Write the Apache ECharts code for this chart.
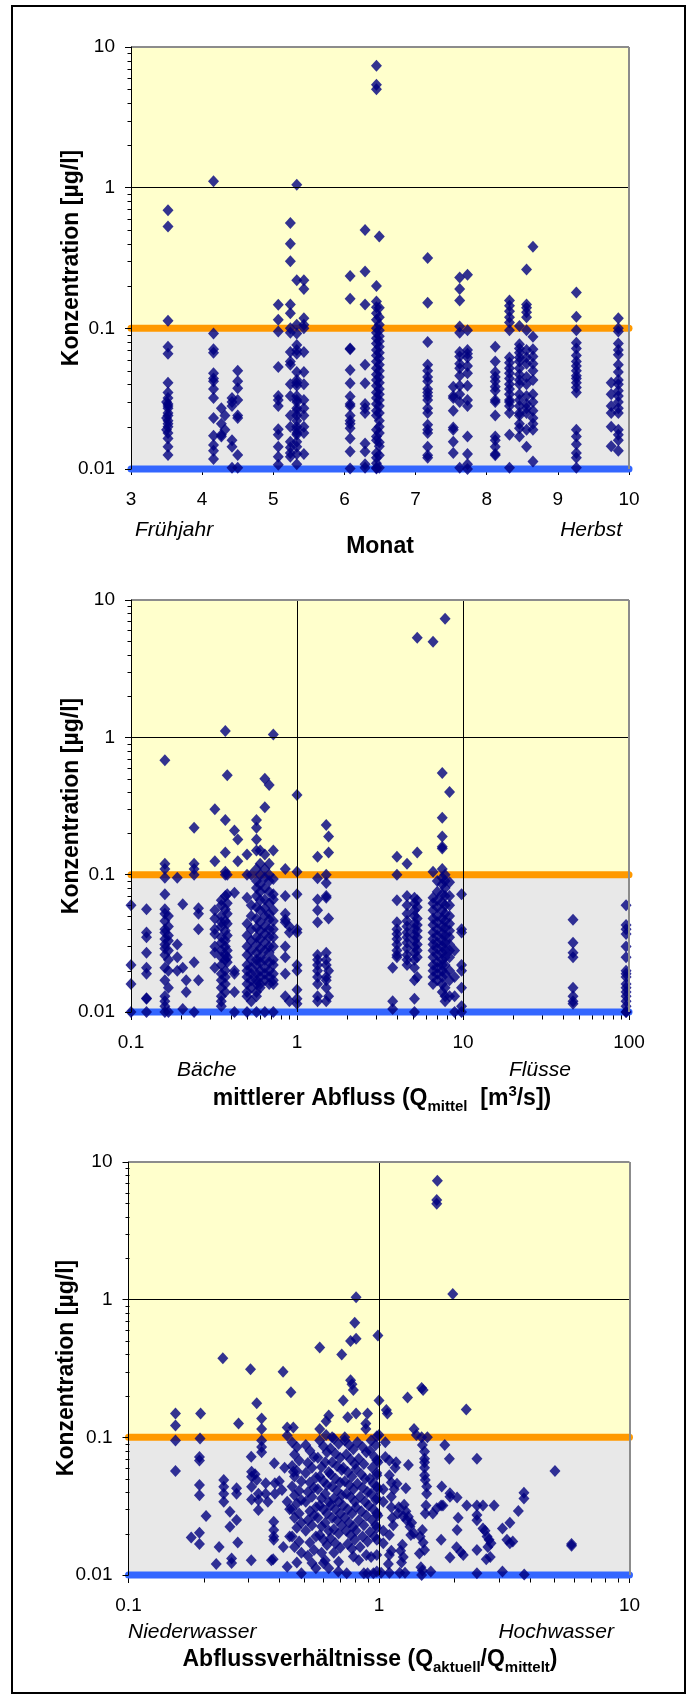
<!DOCTYPE html>
<html>
<head>
<meta charset="utf-8">
<script src="https://cdn.jsdelivr.net/npm/echarts@6/dist/echarts.min.js"></script>
<style>
  html, body { margin: 0; padding: 0; background: #ffffff; }
  #chart { width: 691px; height: 1698px; }
</style>
</head>
<body>
<div id="chart"></div>
<script>
// ---------------------------------------------------------------
// Messwerte: Konzentration [µg/l] gegen Monat, mittleren Abfluss
// und Abflussverhältnis. Gruppen: [x, [Konzentrationen]]
// ---------------------------------------------------------------
const monatMessungen = [
  [3.50, [0.030, 0.023, 0.019]],
  [3.52, [0.69, 0.53, 0.113, 0.074, 0.066, 0.041, 0.035, 0.032, 0.029, 0.028, 0.027, 0.025, 0.024, 0.022, 0.021, 0.020, 0.018, 0.0165, 0.0144, 0.0126]],
  [4.16, [1.11, 0.092, 0.071, 0.067, 0.048, 0.044, 0.042, 0.037, 0.032, 0.023, 0.0172, 0.0148, 0.0135, 0.0118]],
  [4.27, [0.027, 0.021, 0.0175, 0.017]],
  [4.32, [0.024, 0.019]],
  [4.42, [0.032, 0.030, 0.028, 0.016, 0.0144, 0.0102]],
  [4.50, [0.050, 0.042, 0.0375, 0.031, 0.024, 0.023, 0.0126, 0.0102]],
  [5.07, [0.147, 0.115, 0.095, 0.053, 0.033, 0.031, 0.028, 0.0192, 0.0175, 0.0144, 0.0122, 0.0107]],
  [5.24, [0.56, 0.40, 0.30, 0.148, 0.128, 0.100, 0.093, 0.068, 0.058, 0.055, 0.040, 0.033, 0.024, 0.020, 0.0156, 0.0142, 0.013, 0.0122]],
  [5.33, [1.05, 0.22, 0.106, 0.092, 0.076, 0.070, 0.066, 0.049, 0.043, 0.041, 0.039, 0.033, 0.031, 0.030, 0.027, 0.026, 0.024, 0.022, 0.020, 0.019, 0.018, 0.0175, 0.0156, 0.0144, 0.0128, 0.0108]],
  [5.43, [0.22, 0.19, 0.118, 0.106, 0.100, 0.068, 0.049, 0.040, 0.031, 0.027, 0.024, 0.020, 0.018, 0.0128]],
  [6.08, [0.236, 0.162, 0.072, 0.071, 0.0506, 0.0407, 0.0327, 0.029, 0.028, 0.024, 0.022, 0.021, 0.0195, 0.0165, 0.0133, 0.0101]],
  [6.29, [0.50, 0.254, 0.148, 0.055, 0.0407, 0.029, 0.027, 0.025, 0.0152, 0.0133, 0.0108, 0.0102]],
  [6.45, [7.35, 5.38, 5.0, 0.20, 0.155, 0.141, 0.128, 0.115, 0.100, 0.093, 0.085, 0.078, 0.070, 0.064, 0.058, 0.052, 0.047, 0.043, 0.039, 0.035, 0.032, 0.029, 0.026, 0.024, 0.019, 0.017, 0.016, 0.013, 0.012, 0.011, 0.0102, 0.0101]],
  [6.49, [0.45, 0.14, 0.12, 0.106, 0.097, 0.088, 0.081, 0.074, 0.067, 0.061, 0.055, 0.050, 0.045, 0.041, 0.037, 0.034, 0.031, 0.028, 0.025, 0.022, 0.020, 0.018, 0.0155, 0.0145, 0.0125, 0.0102]],
  [7.17, [0.316, 0.152, 0.080, 0.055, 0.050, 0.045, 0.042, 0.037, 0.035, 0.033, 0.031, 0.027, 0.025, 0.0206, 0.019, 0.018, 0.0144, 0.0125, 0.012]],
  [7.53, [0.0385, 0.033, 0.032, 0.026, 0.0197, 0.019, 0.0156, 0.013]],
  [7.62, [0.23, 0.19, 0.158, 0.103, 0.093, 0.068, 0.063, 0.056, 0.052, 0.046, 0.039, 0.034, 0.030, 0.0102]],
  [7.73, [0.24, 0.097, 0.070, 0.066, 0.062, 0.054, 0.048, 0.039, 0.031, 0.028, 0.017, 0.0128, 0.0108, 0.010]],
  [8.12, [0.074, 0.058, 0.049, 0.045, 0.042, 0.0385, 0.036, 0.031, 0.030, 0.024, 0.017, 0.016, 0.0144, 0.0128, 0.0125]],
  [8.32, [0.158, 0.145, 0.132, 0.12, 0.11, 0.097, 0.062, 0.057, 0.052, 0.048, 0.044, 0.040, 0.037, 0.034, 0.031, 0.030, 0.028, 0.025, 0.0175, 0.0102]],
  [8.46, [0.104, 0.077, 0.072, 0.067, 0.062, 0.058, 0.052, 0.047, 0.043, 0.040, 0.034, 0.031, 0.028, 0.025, 0.024, 0.021, 0.0195, 0.017]],
  [8.56, [0.262, 0.148, 0.14, 0.13, 0.12, 0.097, 0.070, 0.062, 0.056, 0.045, 0.040, 0.033, 0.029, 0.027, 0.025, 0.019, 0.0144]],
  [8.65, [0.38, 0.087, 0.071, 0.063, 0.056, 0.050, 0.043, 0.034, 0.030, 0.026, 0.023, 0.021, 0.019, 0.0113]],
  [9.26, [0.18, 0.121, 0.097, 0.079, 0.072, 0.064, 0.058, 0.054, 0.050, 0.046, 0.044, 0.041, 0.038, 0.035, 0.019, 0.017, 0.015, 0.013, 0.012, 0.0102]],
  [9.75, [0.041, 0.034, 0.028, 0.025, 0.020, 0.0145]],
  [9.85, [0.118, 0.100, 0.095, 0.078, 0.070, 0.065, 0.055, 0.049, 0.043, 0.040, 0.036, 0.033, 0.030, 0.027, 0.025, 0.019, 0.0175, 0.016, 0.0135]]
];

const abflussMessungen = [
  [0.100, [0.060, 0.022, 0.016, 0.010]],
  [0.124, [0.056, 0.038, 0.035, 0.027, 0.021, 0.019, 0.0126, 0.0125, 0.010]],
  [0.160, [0.68, 0.12, 0.11, 0.095, 0.072, 0.056, 0.052, 0.046, 0.040, 0.038, 0.034, 0.031, 0.029, 0.026, 0.021, 0.017, 0.013, 0.012, 0.011, 0.010]],
  [0.168, [0.050, 0.042, 0.036, 0.033, 0.028, 0.024, 0.020, 0.015, 0.010]],
  [0.190, [0.095, 0.031, 0.025, 0.020]],
  [0.205, [0.061, 0.021, 0.0105]],
  [0.215, [0.017, 0.014]],
  [0.240, [0.22, 0.12, 0.11, 0.10, 0.023, 0.010]],
  [0.255, [0.057, 0.052, 0.040, 0.017]],
  [0.320, [0.30, 0.125, 0.055, 0.048, 0.040, 0.037, 0.030, 0.027, 0.021]],
  [0.350, [0.065, 0.060, 0.050, 0.045, 0.042, 0.035, 0.032, 0.028, 0.025, 0.022, 0.019, 0.017, 0.015, 0.013, 0.012, 0.011]],
  [0.370, [1.11, 0.25, 0.145, 0.105, 0.10, 0.070, 0.056, 0.046, 0.039, 0.033, 0.030, 0.026, 0.024, 0.020, 0.018, 0.016, 0.014]],
  [0.380, [0.53, 0.10, 0.072, 0.062, 0.052, 0.044, 0.036, 0.028, 0.025, 0.023]],
  [0.420, [0.21, 0.074, 0.020, 0.019, 0.014, 0.010]],
  [0.440, [0.18, 0.125]],
  [0.500, [0.14, 0.10, 0.068, 0.044, 0.036, 0.030, 0.026, 0.022, 0.020, 0.018, 0.016, 0.014, 0.013, 0.010]],
  [0.530, [0.10, 0.060, 0.050, 0.040, 0.033, 0.028, 0.024, 0.021, 0.019, 0.017, 0.015, 0.012]],
  [0.570, [0.25, 0.22, 0.18, 0.15, 0.11, 0.09, 0.08, 0.07, 0.058, 0.048, 0.041, 0.035, 0.031, 0.027, 0.024, 0.022, 0.019, 0.017, 0.016, 0.014, 0.013, 0.010]],
  [0.600, [0.15, 0.12, 0.10, 0.085, 0.075, 0.065, 0.055, 0.045, 0.039, 0.034, 0.029, 0.025, 0.023, 0.020, 0.018, 0.016, 0.015]],
  [0.640, [0.50, 0.31, 0.14, 0.11, 0.095, 0.08, 0.066, 0.057, 0.050, 0.042, 0.037, 0.032, 0.028, 0.024, 0.021, 0.019, 0.017, 0.010]],
  [0.680, [0.45, 0.12, 0.10, 0.09, 0.075, 0.062, 0.052, 0.047, 0.040, 0.035, 0.030, 0.027, 0.023, 0.020, 0.018, 0.016]],
  [0.720, [1.05, 0.15, 0.093, 0.072, 0.066, 0.055, 0.046, 0.040, 0.035, 0.030, 0.024, 0.022, 0.019, 0.017, 0.016, 0.010]],
  [0.850, [0.11, 0.070, 0.052, 0.047, 0.045, 0.030, 0.025, 0.019, 0.013]],
  [0.900, [0.042, 0.038, 0.012]],
  [1.00, [0.38, 0.105, 0.072, 0.040, 0.038, 0.022, 0.020, 0.0145, 0.0125, 0.0115]],
  [1.33, [0.135, 0.094, 0.066, 0.055, 0.045, 0.026, 0.024, 0.022, 0.020, 0.018, 0.016, 0.013, 0.012]],
  [1.50, [0.23, 0.10, 0.087, 0.070, 0.068, 0.027, 0.024, 0.022, 0.018, 0.017, 0.015, 0.012]],
  [1.55, [0.19, 0.145, 0.048, 0.020, 0.013]],
  [3.77, [0.021, 0.012, 0.0105]],
  [4.00, [0.135, 0.10, 0.065, 0.045, 0.040, 0.037, 0.034, 0.031, 0.028, 0.026, 0.025]],
  [4.60, [0.12, 0.07, 0.06, 0.052, 0.046, 0.042, 0.038, 0.035, 0.032, 0.029, 0.026, 0.024, 0.022]],
  [5.10, [0.068, 0.062, 0.055, 0.050, 0.044, 0.040, 0.036, 0.033, 0.030, 0.027, 0.024, 0.021, 0.017, 0.0125, 0.010]],
  [5.30, [5.3, 0.145, 0.065, 0.058, 0.048, 0.043, 0.039, 0.035, 0.031, 0.028, 0.025, 0.018]],
  [6.60, [4.97, 0.105, 0.068, 0.062, 0.055, 0.048, 0.043, 0.038, 0.034, 0.031, 0.028, 0.025, 0.022, 0.020, 0.018, 0.016]],
  [7.00, [0.09, 0.075, 0.065, 0.058, 0.050, 0.045, 0.040, 0.036, 0.032, 0.029, 0.026, 0.023, 0.021, 0.019, 0.017]],
  [7.50, [0.55, 0.26, 0.19, 0.16, 0.155, 0.11, 0.095, 0.085, 0.072, 0.063, 0.055, 0.048, 0.042, 0.037, 0.033, 0.030, 0.027, 0.024, 0.022, 0.020, 0.018, 0.016, 0.014]],
  [7.80, [7.3, 0.10, 0.09, 0.08, 0.07, 0.06, 0.052, 0.046, 0.041, 0.036, 0.032, 0.028, 0.025, 0.022, 0.019, 0.015, 0.013, 0.012]],
  [8.30, [0.40, 0.088, 0.070, 0.060, 0.050, 0.044, 0.039, 0.035, 0.031, 0.028, 0.025, 0.020, 0.017, 0.013]],
  [8.90, [0.028, 0.018, 0.013, 0.010]],
  [9.80, [0.072, 0.040, 0.038, 0.022, 0.020, 0.015, 0.011, 0.010]],
  [46.0, [0.047, 0.032, 0.027, 0.025, 0.015, 0.013, 0.012, 0.0115]],
  [96.0, [0.060, 0.043, 0.040, 0.037, 0.030, 0.025, 0.020, 0.019, 0.018, 0.016, 0.015, 0.014, 0.013, 0.012, 0.011, 0.010, 0.010]]
];

// Paare [Q_aktuell/Q_mittel, Konzentration]
const verhaeltnisMessungen = [
  [1.71, 7.3], [1.70, 5.3], [1.70, 4.97], [1.97, 1.10], [0.81, 1.04], [0.80, 0.68], [0.81, 0.52], [0.77, 0.50],
  [0.99, 0.55], [0.58, 0.45], [0.71, 0.40], [0.238, 0.376], [0.307, 0.312], [0.414, 0.30], [0.445, 0.213],
  [0.77, 0.26], [0.78, 0.243], [0.79, 0.221], [0.72, 0.185], [1.0, 0.185], [1.30, 0.195], [1.48, 0.228],
  [1.50, 0.221], [2.23, 0.159], [1.08, 0.149], [1.07, 0.158], [0.90, 0.149], [0.81, 0.149], [0.75, 0.14],
  [0.63, 0.144], [0.615, 0.131], [0.325, 0.177], [0.34, 0.137], [0.34, 0.115], [0.275, 0.126], [0.154, 0.149],
  [0.154, 0.122], [0.194, 0.149], [0.43, 0.118], [0.455, 0.118], [0.43, 0.103], [0.58, 0.115], [0.615, 0.104],
  [0.886, 0.115], [0.886, 0.126], [0.98, 0.102], [1.0, 0.104], [1.38, 0.115], [1.41, 0.104], [1.56, 0.1],
  [0.65, 0.1], [0.73, 0.1],
  [0.154, 0.095], [0.193, 0.098], [0.154, 0.057], [0.192, 0.072], [0.192, 0.068], [0.192, 0.045], [0.192, 0.038],
  [0.204, 0.0268], [0.178, 0.0187], [0.192, 0.0203], [0.192, 0.0168], [0.23, 0.016], [0.224, 0.012],
  [0.24, 0.049], [0.24, 0.0438], [0.24, 0.039], [0.24, 0.034], [0.254, 0.0288], [0.254, 0.0224], [0.27, 0.0251],
  [0.27, 0.0426], [0.27, 0.039], [0.273, 0.0172], [0.258, 0.0132], [0.258, 0.0122], [0.309, 0.0723],
  [0.31, 0.0563], [0.31, 0.0518], [0.31, 0.0438], [0.31, 0.0353], [0.309, 0.0128], [0.32, 0.054], [0.325, 0.049],
  [0.33, 0.039], [0.33, 0.035], [0.33, 0.0297], [0.34, 0.095], [0.34, 0.085], [0.34, 0.078], [0.353, 0.0464],
  [0.353, 0.039], [0.36, 0.034], [0.382, 0.0647], [0.384, 0.0464], [0.384, 0.039], [0.38, 0.0244], [0.38, 0.0212],
  [0.38, 0.019], [0.38, 0.018], [0.378, 0.013], [0.372, 0.0128], [0.41, 0.0414], [0.40, 0.048], [0.415, 0.016],
  [0.43, 0.0115], [0.42, 0.060], [0.43, 0.034], [0.44, 0.030], [0.44, 0.019], [0.455, 0.0563],
  [0.45, 0.092], [0.47, 0.085], [0.46, 0.075], [0.48, 0.068], [0.45, 0.062], [0.47, 0.057], [0.46, 0.052],
  [0.49, 0.048], [0.45, 0.044], [0.48, 0.041], [0.46, 0.038], [0.49, 0.035], [0.47, 0.033], [0.45, 0.030],
  [0.48, 0.028], [0.46, 0.026], [0.49, 0.024], [0.47, 0.022], [0.45, 0.019], [0.48, 0.0175], [0.46, 0.016],
  [0.49, 0.0145], [0.47, 0.0123], [0.49, 0.0103],
  [0.51, 0.088], [0.53, 0.080], [0.55, 0.072], [0.52, 0.065], [0.54, 0.060], [0.51, 0.055], [0.56, 0.051],
  [0.53, 0.047], [0.55, 0.043], [0.52, 0.040], [0.54, 0.037], [0.51, 0.034], [0.56, 0.031], [0.53, 0.029],
  [0.55, 0.027], [0.52, 0.025], [0.54, 0.023], [0.51, 0.021], [0.56, 0.019], [0.53, 0.0172], [0.55, 0.0152],
  [0.52, 0.0138], [0.54, 0.0122], [0.56, 0.0112],
  [0.58, 0.095], [0.60, 0.086], [0.62, 0.078], [0.57, 0.071], [0.61, 0.066], [0.59, 0.061], [0.63, 0.056],
  [0.58, 0.052], [0.60, 0.048], [0.62, 0.045], [0.57, 0.042], [0.61, 0.039], [0.59, 0.036], [0.63, 0.034],
  [0.58, 0.032], [0.60, 0.030], [0.62, 0.028], [0.57, 0.026], [0.61, 0.024], [0.59, 0.0225], [0.63, 0.021],
  [0.58, 0.0195], [0.60, 0.018], [0.62, 0.0165], [0.59, 0.0145], [0.61, 0.0128], [0.60, 0.0122], [0.63, 0.0112],
  [0.66, 0.098], [0.69, 0.090], [0.64, 0.083], [0.67, 0.076], [0.70, 0.071], [0.65, 0.066], [0.68, 0.062],
  [0.71, 0.058], [0.64, 0.054], [0.67, 0.050], [0.70, 0.047], [0.65, 0.044], [0.68, 0.041], [0.71, 0.038],
  [0.66, 0.036], [0.69, 0.034], [0.64, 0.032], [0.67, 0.030], [0.70, 0.028], [0.65, 0.026], [0.68, 0.025],
  [0.71, 0.023], [0.66, 0.0215], [0.69, 0.020], [0.64, 0.0185], [0.67, 0.017], [0.70, 0.0158], [0.66, 0.0145],
  [0.69, 0.0125], [0.688, 0.0106],
  [0.73, 0.095], [0.76, 0.088], [0.79, 0.082], [0.74, 0.075], [0.77, 0.069], [0.80, 0.064], [0.72, 0.060],
  [0.75, 0.056], [0.78, 0.052], [0.73, 0.048], [0.76, 0.045], [0.79, 0.042], [0.74, 0.039], [0.77, 0.037],
  [0.80, 0.034], [0.72, 0.032], [0.75, 0.030], [0.78, 0.028], [0.73, 0.026], [0.76, 0.024], [0.79, 0.0225],
  [0.74, 0.021], [0.77, 0.0195], [0.80, 0.018], [0.75, 0.0168], [0.78, 0.0155], [0.79, 0.0136], [0.743, 0.0103],
  [0.82, 0.092], [0.86, 0.085], [0.89, 0.078], [0.83, 0.070], [0.87, 0.064], [0.81, 0.059], [0.85, 0.054],
  [0.88, 0.050], [0.82, 0.046], [0.86, 0.043], [0.90, 0.040], [0.84, 0.037], [0.88, 0.034], [0.81, 0.031],
  [0.85, 0.029], [0.89, 0.027], [0.83, 0.025], [0.87, 0.023], [0.81, 0.021], [0.86, 0.019], [0.90, 0.0175],
  [0.84, 0.016], [0.83, 0.0128], [0.89, 0.014], [0.87, 0.0103], [0.90, 0.0103],
  [0.93, 0.095], [0.97, 0.088], [0.92, 0.080], [0.96, 0.072], [0.99, 0.066], [0.94, 0.060], [0.98, 0.055],
  [0.92, 0.050], [0.95, 0.046], [0.99, 0.042], [0.93, 0.039], [0.97, 0.035], [0.91, 0.032], [0.95, 0.030],
  [0.99, 0.027], [0.94, 0.025], [0.97, 0.023], [0.92, 0.0205], [0.96, 0.019], [0.98, 0.0106], [0.95, 0.0103],
  [0.93, 0.0135],
  [0.98, 0.068], [0.98, 0.053], [0.98, 0.044], [0.98, 0.036], [0.98, 0.028], [0.98, 0.022], [0.98, 0.018],
  [0.98, 0.014], [1.02, 0.0104], [1.04, 0.042], [1.04, 0.034], [1.04, 0.021], [1.04, 0.017], [1.06, 0.072],
  [1.10, 0.068], [1.10, 0.053], [1.12, 0.037], [1.12, 0.031], [1.13, 0.026], [1.14, 0.023], [1.10, 0.0195],
  [1.12, 0.015], [1.10, 0.014], [1.09, 0.012], [1.10, 0.0104], [1.17, 0.066], [1.16, 0.060], [1.18, 0.046],
  [1.06, 0.092], [1.20, 0.031], [1.19, 0.028], [1.12, 0.047], [1.15, 0.042], [1.31, 0.063], [1.28, 0.0426],
  [1.26, 0.0324], [1.28, 0.029], [1.25, 0.0267], [1.29, 0.025], [1.33, 0.0224], [1.34, 0.0195], [1.24, 0.0166],
  [1.22, 0.015], [1.25, 0.0135], [1.23, 0.0123], [1.21, 0.0104], [1.27, 0.0104], [1.31, 0.0265], [1.38, 0.020],
  [1.35, 0.024],
  [1.52, 0.070], [1.52, 0.066], [1.52, 0.060], [1.52, 0.053], [1.53, 0.049], [1.55, 0.044], [1.55, 0.039],
  [1.48, 0.100], [1.49, 0.088], [1.52, 0.079], [1.54, 0.032], [1.53, 0.028], [1.49, 0.0212], [1.46, 0.019],
  [1.50, 0.0172], [1.52, 0.0152], [1.49, 0.0108], [1.48, 0.010], [1.45, 0.0143], [1.47, 0.0114], [1.61, 0.0106],
  [1.64, 0.028], [1.70, 0.0306], [1.78, 0.044], [1.83, 0.088], [1.91, 0.070], [1.92, 0.0393], [1.92, 0.037],
  [2.05, 0.0366], [1.77, 0.032], [1.80, 0.032], [1.77, 0.018], [1.92, 0.0134], [2.07, 0.026], [2.05, 0.0212],
  [2.04, 0.0159], [2.12, 0.0147], [2.17, 0.014], [2.24, 0.032], [2.46, 0.070], [2.46, 0.032], [2.60, 0.032],
  [2.88, 0.032], [2.46, 0.0273], [2.46, 0.025], [2.60, 0.0218], [2.65, 0.021], [2.70, 0.019], [2.75, 0.018],
  [2.80, 0.017], [2.72, 0.016], [2.78, 0.0135], [2.68, 0.013], [2.46, 0.0152], [2.46, 0.0103], [3.11, 0.0106],
  [3.80, 0.0101], [3.79, 0.0396], [3.79, 0.036], [3.60, 0.0292], [3.33, 0.024], [3.11, 0.0218], [3.24, 0.018],
  [3.33, 0.017], [3.42, 0.0175], [5.04, 0.057], [5.87, 0.0168], [5.87, 0.0163]
];

// Beschriftungen der Achsen und Bereiche
const achsenTitelY = 'Konzentration [µg/l]';
const achsenTitelMonat = 'Monat';
const bereichMonat = ['Frühjahr', 'Herbst'];
const bereichAbfluss = ['Bäche', 'Flüsse'];
const bereichVerhaeltnis = ['Niederwasser', 'Hochwasser'];
const schwelleOben = 0.1;
const schwelleUnten = 0.01;

// ---------------------------------------------------------------
const FONT = '"Liberation Sans", Arial, Helvetica, sans-serif';

function ausGruppen(gruppen) {
  const paare = [];
  gruppen.forEach(([x, werte]) => werte.forEach(y => paare.push([x, y])));
  return paare;
}

function tickText(v) {
  return String(parseFloat(Number(v).toPrecision(6)));
}

const panels = [
  { grid: { left: 131, top: 47, width: 498, height: 422 }, xType: 'value', xMin: 3, xMax: 10,
    xGrid: [], xDecades: [], data: ausGruppen(monatMessungen), xTickLen: 6 },
  { grid: { left: 131, top: 600, width: 498, height: 412 }, xType: 'log', xMin: 0.1, xMax: 100,
    xGrid: [1, 10], xDecades: [0.1, 1, 10], data: ausGruppen(abflussMessungen), xTickLen: 8 },
  { grid: { left: 128.5, top: 1162, width: 501, height: 413 }, xType: 'log', xMin: 0.1, xMax: 10,
    xGrid: [1], xDecades: [0.1, 1], data: verhaeltnisMessungen, xTickLen: 8 }
];

const grids = [], xAxes = [], yAxes = [], series = [];

panels.forEach((p, i) => {
  grids.push(Object.assign({ show: true, backgroundColor: '#FFFFCC', borderWidth: 0 }, p.grid));

  const xAxis = {
    gridIndex: i, type: p.xType, min: p.xMin, max: p.xMax,
    axisLine: { show: false },
    axisTick: { show: true, inside: false, length: p.xTickLen, lineStyle: { color: '#000', width: 1 } },
    axisLabel: { show: true, color: '#000', fontSize: 19, fontFamily: FONT, margin: 21, formatter: tickText },
    splitLine: { show: false }
  };
  if (p.xType === 'value') xAxis.interval = 1;
  else xAxis.logBase = 10;
  xAxes.push(xAxis);

  yAxes.push({
    gridIndex: i, type: 'log', logBase: 10, min: 0.01, max: 10, z: 10,
    axisLine: { show: true, lineStyle: { color: '#000', width: 1 } },
    axisTick: { show: true, inside: false, length: 6, lineStyle: { color: '#000', width: 1 } },
    axisLabel: { show: true, color: '#000', fontSize: 19, fontFamily: FONT, margin: 16, formatter: tickText },
    splitLine: { show: false }
  });

  // grauer Bereich unterhalb des Schwellenwerts
  series.push({
    type: 'line', xAxisIndex: i, yAxisIndex: i, data: [], z: 1, silent: true,
    markArea: { silent: true, itemStyle: { color: '#E8E8E8' }, data: [[{ yAxis: schwelleUnten }, { yAxis: schwelleOben }]] }
  });

  // Gitterlinien und Rahmen oben / rechts
  const gitter = [{ yAxis: 1, lineStyle: { color: '#000', width: 1, type: 'solid' } }];
  p.xGrid.forEach(v => gitter.push({ xAxis: v, lineStyle: { color: '#000', width: 1, type: 'solid' } }));
  gitter.push({ yAxis: 10, lineStyle: { color: '#8C8C8C', width: 2, type: 'solid' } });
  gitter.push({ xAxis: p.xMax, lineStyle: { color: '#8C8C8C', width: 2, type: 'solid' } });
  series.push({
    type: 'line', xAxisIndex: i, yAxisIndex: i, data: [], z: 2, silent: true,
    markLine: { silent: true, symbol: 'none', label: { show: false }, data: gitter }
  });

  // Nebenstriche der logarithmischen Achsen
  const striche = [];
  [0.01, 0.1, 1].forEach(d => { for (let k = 2; k <= 9; k++) striche.push([p.xMin, d * k, 0]); });
  p.xDecades.forEach(d => { for (let k = 2; k <= 9; k++) striche.push([d * k, 0.01, 1]); });
  series.push({
    type: 'custom', xAxisIndex: i, yAxisIndex: i, data: striche, z: 2, silent: true, clip: false,
    renderItem: (params, api) => {
      const pt = api.coord([api.value(0), api.value(1)]);
      const x = Math.round(pt[0]) + 0.5, y = Math.round(pt[1]) + 0.5;
      if (api.value(2) === 0) {
        return { type: 'line', shape: { x1: x - 4, y1: y, x2: x, y2: y }, style: { stroke: '#000', lineWidth: 1 } };
      }
      return { type: 'line', shape: { x1: x, y1: y, x2: x, y2: y + 7 }, style: { stroke: '#000', lineWidth: 1 } };
    }
  });

  // Schwellenwerte 0.1 und 0.01
  series.push({
    type: 'line', xAxisIndex: i, yAxisIndex: i, z: 3, silent: true, clip: false, symbol: 'none',
    data: [[p.xMin, schwelleOben], [p.xMax, schwelleOben]],
    lineStyle: { color: '#FF9900', width: 7, cap: 'round' }
  });
  series.push({
    type: 'line', xAxisIndex: i, yAxisIndex: i, z: 3, silent: true, clip: false, symbol: 'none',
    data: [[p.xMin, schwelleUnten], [p.xMax, schwelleUnten]],
    lineStyle: { color: '#3366FF', width: 7, cap: 'round' }
  });

  // Messpunkte
  series.push({
    type: 'scatter', xAxisIndex: i, yAxisIndex: i, z: 4, clip: false,
    symbol: 'diamond', symbolSize: [11, 12],
    itemStyle: { color: '#000080' },
    data: p.data
  });
});

function text(x, y, str, opts) {
  return Object.assign({
    type: 'text', x: x, y: y, z: 20,
    style: Object.assign({
      text: str, fill: '#000', fontFamily: FONT, fontSize: 19,
      align: 'center', verticalAlign: 'middle'
    }, opts.style || {})
  }, opts.el || {});
}

const fett = { fontSize: 23, fontWeight: 'bold' };
const kursiv = { fontSize: 21, fontStyle: 'italic' };
const richTitel = {
  b: { fontFamily: FONT, fontSize: 23, fontWeight: 'bold', fill: '#000', lineHeight: 30, verticalAlign: 'middle' },
  s: { fontFamily: FONT, fontSize: 15, fontWeight: 'bold', fill: '#000', lineHeight: 15, verticalAlign: 'bottom' },
  p: { fontFamily: FONT, fontSize: 15, fontWeight: 'bold', fill: '#000', lineHeight: 15, verticalAlign: 'top' }
};

const graphics = [
  { type: 'rect', z: 30, shape: { x: 12, y: 6, width: 673, height: 1687 },
    style: { fill: 'none', stroke: '#000', lineWidth: 2 } },
  // Diagramm 1
  text(71.5, 258, achsenTitelY, { style: fett, el: { rotation: Math.PI / 2 } }),
  text(135, 530, bereichMonat[0], { style: Object.assign({ align: 'left' }, kursiv) }),
  text(622, 530, bereichMonat[1], { style: Object.assign({ align: 'right' }, kursiv) }),
  text(380, 547, achsenTitelMonat, { style: fett }),
  // Diagramm 2
  text(71.5, 806, achsenTitelY, { style: fett, el: { rotation: Math.PI / 2 } }),
  text(177, 1070, bereichAbfluss[0], { style: Object.assign({ align: 'left' }, kursiv) }),
  text(509, 1070, bereichAbfluss[1], { style: Object.assign({ align: 'left' }, kursiv) }),
  text(382, 1099, '{b|mittlerer Abfluss (Q}{s|mittel}{b|  [m}{p|3}{b|/s])}', { style: { rich: richTitel } }),
  // Diagramm 3
  text(67, 1368, achsenTitelY, { style: fett, el: { rotation: Math.PI / 2 } }),
  text(128, 1632, bereichVerhaeltnis[0], { style: Object.assign({ align: 'left' }, kursiv) }),
  text(614, 1632, bereichVerhaeltnis[1], { style: Object.assign({ align: 'right' }, kursiv) }),
  text(370, 1660, '{b|Abflussverhältnisse (Q}{s|aktuell}{b|/Q}{s|mittelt}{b|)}', { style: { rich: richTitel } })
];

const chart = echarts.init(document.getElementById('chart'), null, { renderer: 'canvas', width: 691, height: 1698 });
chart.setOption({
  animation: false,
  backgroundColor: '#ffffff',
  grid: grids,
  xAxis: xAxes,
  yAxis: yAxes,
  series: series,
  graphic: graphics
});
</script>
</body>
</html>
